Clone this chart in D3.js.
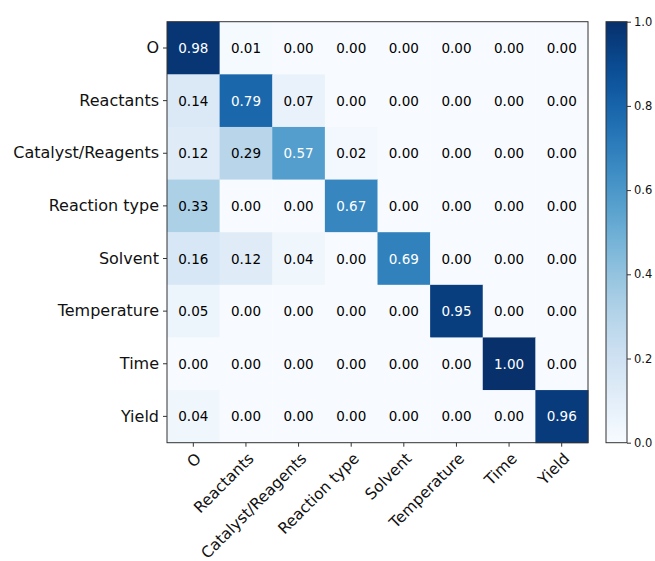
<!DOCTYPE html>
<html>
<head>
<meta charset="utf-8">
<script src="https://cdn.jsdelivr.net/npm/d3@7"></script>
<style>
 body { margin: 0; background: white; }
 text { font-family: "DejaVu Sans", sans-serif; }
</style>
</head>
<body>
<div id="plot"></div>
<script>
let labels = ['O', 'Reactants', 'Catalyst/Reagents', 'Reaction type', 'Solvent', 'Temperature', 'Time', 'Yield'];
let matrix = [
  [0.98, 0.01, 0.00, 0.00, 0.00, 0.00, 0.00, 0.00],
  [0.14, 0.79, 0.07, 0.00, 0.00, 0.00, 0.00, 0.00],
  [0.12, 0.29, 0.57, 0.02, 0.00, 0.00, 0.00, 0.00],
  [0.33, 0.00, 0.00, 0.67, 0.00, 0.00, 0.00, 0.00],
  [0.16, 0.12, 0.04, 0.00, 0.69, 0.00, 0.00, 0.00],
  [0.05, 0.00, 0.00, 0.00, 0.00, 0.95, 0.00, 0.00],
  [0.00, 0.00, 0.00, 0.00, 0.00, 0.00, 1.00, 0.00],
  [0.04, 0.00, 0.00, 0.00, 0.00, 0.00, 0.00, 0.96]
];
let cbTicks = [0.0, 0.2, 0.4, 0.6, 0.8, 1.0];

let width = 655, height = 561;
let left = 167, mTop = 21.7, size = 421;

let svg = d3.select('#plot').append('svg').attr('width', width).attr('height', height);

let x = d3.scaleBand().domain(labels).range([left, left + size]);
let y = d3.scaleBand().domain(labels).range([mTop, mTop + size]);
let color = d3.scaleSequential(d3.interpolateBlues).domain([0, 1]);

let cells = [];
matrix.forEach((row, i) => row.forEach((v, j) => cells.push({r: labels[i], c: labels[j], v: v})));

let g = svg.append('g');
g.selectAll('rect').data(cells).enter().append('rect')
  .attr('x', d => x(d.c))
  .attr('y', d => y(d.r))
  .attr('width', x.bandwidth() + 0.5)
  .attr('height', y.bandwidth() + 0.5)
  .attr('fill', d => color(d.v));

g.selectAll('text.val').data(cells).enter().append('text')
  .attr('class', 'val')
  .attr('x', d => x(d.c) + x.bandwidth() / 2)
  .attr('y', d => y(d.r) + y.bandwidth() / 2)
  .attr('text-anchor', 'middle')
  .attr('dominant-baseline', 'central')
  .style('font-size', '13.5px')
  .style('fill', d => d.v > 0.5 ? 'white' : 'black')
  .text(d => d.v.toFixed(2));

svg.append('rect').attr('x', left).attr('y', mTop).attr('width', size).attr('height', size)
  .attr('fill', 'none').attr('stroke', '#333').attr('stroke-width', 1);

// y axis
let yAxis = svg.append('g').attr('transform', `translate(${left},0)`)
  .call(d3.axisLeft(y).tickSize(4).tickPadding(4));
yAxis.select('.domain').remove();
yAxis.selectAll('line').attr('stroke', '#333');
yAxis.selectAll('text').style('font-size', '16px').style('fill', '#111').attr('font-family', null);

// x axis, labels rotated 45 deg and anchored at their right end
let xAxis = svg.append('g').attr('transform', `translate(0,${mTop + size})`)
  .call(d3.axisBottom(x).tickSize(4).tickPadding(4));
xAxis.select('.domain').remove();
xAxis.selectAll('line').attr('stroke', '#333');
xAxis.selectAll('text')
  .style('font-size', '15.5px').style('fill', '#111').attr('font-family', null)
  .attr('text-anchor', 'end')
  .attr('x', 0)
  .attr('y', 0)
  .attr('dy', '0.35em')
  .attr('transform', 'translate(5,13) rotate(-45)');

// colorbar
let cbX = 606, cbW = 21;
let cy = d3.scaleLinear().domain([0, 1]).range([mTop + size, mTop]);
let defs = svg.append('defs');
let grad = defs.append('linearGradient').attr('id', 'cb').attr('x1', 0).attr('y1', 1).attr('x2', 0).attr('y2', 0);
d3.range(0, 1.01, 0.05).forEach(t => grad.append('stop').attr('offset', t).attr('stop-color', color(t)));
svg.append('rect').attr('x', cbX).attr('y', mTop).attr('width', cbW).attr('height', size)
  .attr('fill', 'url(#cb)').attr('stroke', '#333').attr('stroke-width', 1);
let cbAxis = svg.append('g').attr('transform', `translate(${cbX + cbW},0)`)
  .call(d3.axisRight(cy).tickValues(cbTicks).tickFormat(d3.format('.1f')).tickSize(4).tickPadding(3));
cbAxis.select('.domain').remove();
cbAxis.selectAll('line').attr('stroke', '#333');
cbAxis.selectAll('text').style('font-size', '11.5px').style('fill', '#111').attr('font-family', null);
</script>
</body>
</html>
